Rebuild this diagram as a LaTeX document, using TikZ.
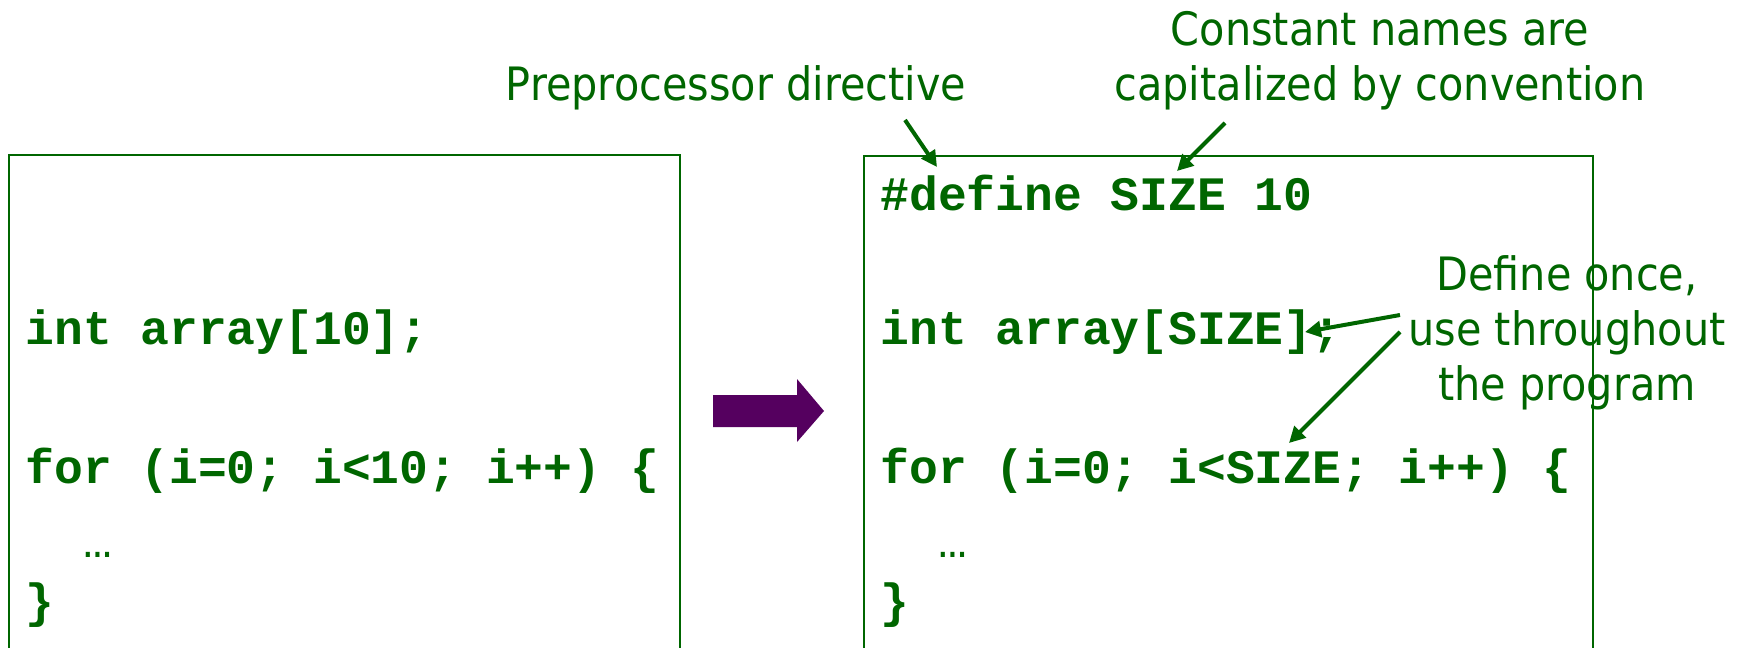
\documentclass[tikz,border=0pt]{standalone}
\usepackage{fontspec}
\setmainfont{DejaVu Sans}[FakeStretch=0.9]
\newfontfamily\codefont{Liberation Mono}
\usetikzlibrary{arrows.meta}
\definecolor{codegreen}{RGB}{0,102,0}
\definecolor{arrowpurple}{RGB}{85,0,95}

\begin{document}
\begin{tikzpicture}[x=0.5pt,y=-0.5pt,
  codebox/.style={draw=codegreen, line width=1pt},
  code/.style={anchor=base west, inner sep=0pt, text=codegreen,
    font=\codefont\bfseries\fontsize{24}{28}\selectfont},
  note/.style={align=center, inner sep=0pt, text=codegreen,
    font=\fontsize{23}{27.5}\selectfont},
  pointer/.style={draw=codegreen, line width=2pt,
    -{Triangle[length=8pt,width=8pt]}}]

\useasboundingbox (0,0) rectangle (1742,648);
\clip (0,0) rectangle (1742,648);

% open-bottomed code panels
\draw[codebox] (9,700) -- (9,155) -- (680,155) -- (680,700);
\draw[codebox] (864,700) -- (864,156) -- (1593,156) -- (1593,700);

% original code
\node[code] (l1) at (25,344) {int array[10];};
\node[code] (l2) at (25,483) {for (i=0; i<10; i++) \{};
\node[code] (l3) at (25,557) {\mdseries\ \ …};
\node[code] (l4) at (25,617) {\}};

% transformation arrow
\fill[arrowpurple] (713,395) -- (797,395) -- (797,379) -- (824,411)
  -- (797,442) -- (797,427) -- (713,427) -- cycle;

% rewritten code
\node[code] (r0) at (880,210) {\#define SIZE 10};
\node[code] (r1) at (880,344) {int array[SIZE];};
\node[code] (r2) at (880,483) {for (i=0; i<SIZE; i++) \{};
\node[code] (r3) at (880,557) {\mdseries\ \ …};
\node[code] (r4) at (880,617) {\}};

% annotations (base anchor = baseline of the last line)
\node[note, anchor=base] (pre) at (736,100) {Preprocessor directive};
\node[note, anchor=base] (const) at (1380,100) {Constant names are\\capitalized by convention};
\node[note, anchor=base] (once) at (1567,400) {Define once,\\use throughout\\the program};

% pointers
\coordinate (preTail) at (905,120);   \coordinate (preHead) at (937,167);
\coordinate (constTail) at (1225,123); \coordinate (constHead) at (1177,171);
\coordinate (arrTail) at (1400,315);  \coordinate (arrHead) at (1305,332);
\coordinate (forTail) at (1400,332);  \coordinate (forHead) at (1289,443);
\draw[pointer] (preTail) -- (preHead);
\draw[pointer] (constTail) -- (constHead);
\draw[pointer] (arrTail) -- (arrHead);
\draw[pointer] (forTail) -- (forHead);
\end{tikzpicture}
\end{document}
